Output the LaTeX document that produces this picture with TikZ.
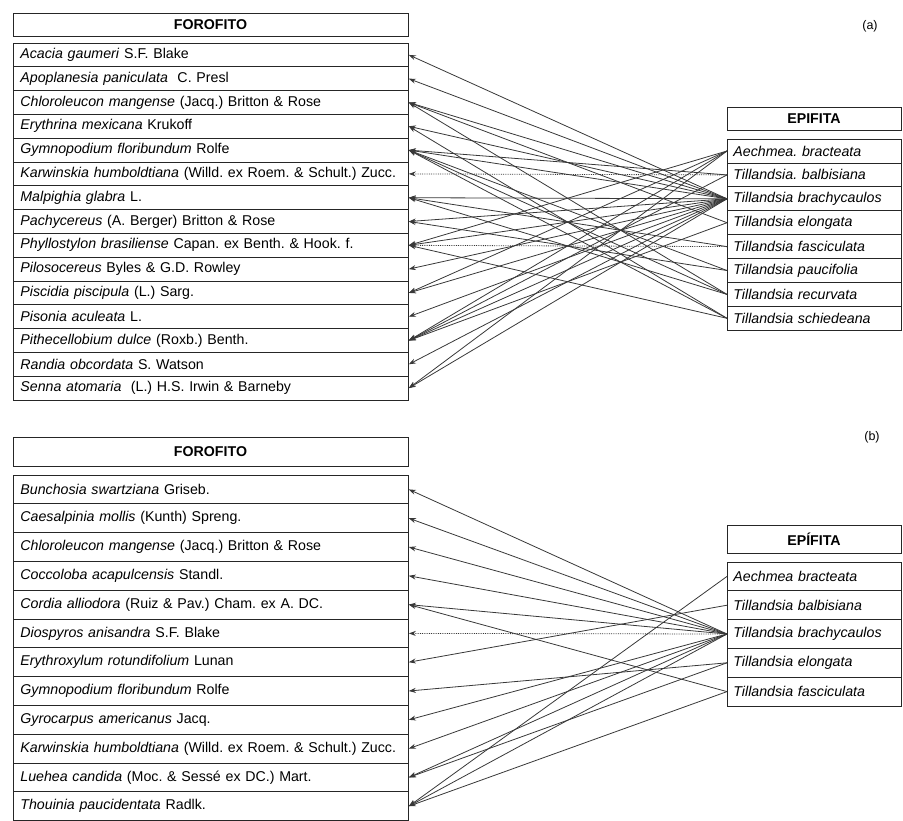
\documentclass[tikz,border=0pt]{standalone}
\usepackage{fontspec}
\setmainfont{Liberation Sans}
\usetikzlibrary{arrows.meta}
\newcommand{\spfont}{\fontsize{14.2}{16}\selectfont}
\frenchspacing

\begin{document}
\begin{tikzpicture}[x=1pt, y=-1pt, line width=0.8pt,
  lrow/.style={draw=black!85, anchor=west, text width=381pt, inner xsep=7pt, inner ysep=0pt, minimum height=#1, align=left, font=\spfont},
  rrow/.style={draw=black!85, anchor=west, text width=162pt, inner xsep=6pt, inner ysep=0pt, minimum height=#1, align=left, font=\spfont\itshape},
  head/.style={draw=black!85, inner sep=0pt, minimum height=#1, font=\spfont\bfseries},
  link/.style={draw=black!78, line width=0.8pt, -{Stealth[length=7pt,width=5pt]}}]
  \useasboundingbox (0,0) rectangle (903,820);

  % (a) forofitos
  \node[head=23pt, minimum width=395pt] (fah) at (210.5,24.5) {FOROFITO};
  \node[lrow=23.8pt] (fa1) at (13,54.9) {\textit{Acacia gaumeri} S.F. Blake};
  \node[lrow=23.8pt] (fa2) at (13,78.7) {\textit{Apoplanesia paniculata}\ \ C. Presl};
  \node[lrow=23.8pt] (fa3) at (13,102.5) {\textit{Chloroleucon mangense} (Jacq.) Britton \& Rose};
  \node[lrow=23.8pt] (fa4) at (13,126.3) {\textit{Erythrina mexicana} Krukoff};
  \node[lrow=23.8pt] (fa5) at (13,150.1) {\textit{Gymnopodium floribundum} Rolfe};
  \node[lrow=23.8pt] (fa6) at (13,173.9) {\textit{Karwinskia humboldtiana} (Willd. ex Roem. \& Schult.) Zucc.};
  \node[lrow=23.8pt] (fa7) at (13,197.7) {\textit{Malpighia glabra} L.};
  \node[lrow=23.8pt] (fa8) at (13,221.5) {\textit{Pachycereus} (A. Berger) Britton \& Rose};
  \node[lrow=23.8pt] (fa9) at (13,245.3) {\textit{Phyllostylon brasiliense} Capan. ex Benth. \& Hook. f.};
  \node[lrow=23.8pt] (fa10) at (13,269.1) {\textit{Pilosocereus} Byles \& G.D. Rowley};
  \node[lrow=23.8pt] (fa11) at (13,292.9) {\textit{Piscidia piscipula} (L.) Sarg.};
  \node[lrow=23.8pt] (fa12) at (13,316.7) {\textit{Pisonia aculeata} L.};
  \node[lrow=23.8pt] (fa13) at (13,340.5) {\textit{Pithecellobium dulce} (Roxb.) Benth.};
  \node[lrow=23.8pt] (fa14) at (13,364.3) {\textit{Randia obcordata} S. Watson};
  \node[lrow=23.8pt] (fa15) at (13,388.1) {\textit{Senna atomaria}\ \ (L.) H.S. Irwin \& Barneby};

  % (a) epifitas
  \node[head=23pt, minimum width=174pt] (eah) at (814,118.5) {EPIFITA};
  \node[rrow=23.9pt] (ea1) at (727,151) {Aechmea. bracteata};
  \node[rrow=23.9pt] (ea2) at (727,174.9) {Tillandsia. balbisiana};
  \node[rrow=23.9pt] (ea3) at (727,198.8) {Tillandsia brachycaulos};
  \node[rrow=23.9pt] (ea4) at (727,222.7) {Tillandsia elongata};
  \node[rrow=23.9pt] (ea5) at (727,246.6) {Tillandsia fasciculata};
  \node[rrow=23.9pt] (ea6) at (727,270.5) {Tillandsia paucifolia};
  \node[rrow=23.9pt] (ea7) at (727,294.4) {Tillandsia recurvata};
  \node[rrow=23.9pt] (ea8) at (727,318.3) {Tillandsia schiedeana};
  \node[font=\fontsize{12.5}{14}\selectfont] (laba) at (870,26) {(a)};

  \draw[link] (ea3.west) -- (fa1.east);
  \draw[link] (ea3.west) -- (fa2.east);
  \draw[link] (ea3.west) -- (fa3.east);
  \draw[link] (ea4.west) -- (fa3.east);
  \draw[link] (ea7.west) -- (fa3.east);
  \draw[link] (ea3.west) -- (fa4.east);
  \draw[link] (ea8.west) -- (fa4.east);
  \draw[link] (ea2.west) -- (fa5.east);
  \draw[link] (ea3.west) -- (fa5.east);
  \draw[link] (ea6.west) -- (fa5.east);
  \draw[link] (ea7.west) -- (fa5.east);
  \draw[link] (ea8.west) -- (fa5.east);
  \draw[link, densely dotted] (ea2.west) -- (fa6.east);
  \draw[link] (ea3.west) -- (fa7.east);
  \draw[link] (ea5.west) -- (fa7.east);
  \draw[link] (ea7.west) -- (fa7.east);
  \draw[link] (ea3.west) -- (fa8.east);
  \draw[link] (ea6.west) -- (fa8.east);
  \draw[link] (ea1.west) -- (fa9.east);
  \draw[link] (ea3.west) -- (fa9.east);
  \draw[link, densely dotted] (ea5.west) -- (fa9.east);
  \draw[link] (ea8.west) -- (fa9.east);
  \draw[link] (ea3.west) -- (fa10.east);
  \draw[link] (ea1.west) -- (fa11.east);
  \draw[link] (ea3.west) -- (fa11.east);
  \draw[link] (ea3.west) -- (fa12.east);
  \draw[link] (ea1.west) -- (fa13.east);
  \draw[link] (ea2.west) -- (fa13.east);
  \draw[link] (ea3.west) -- (fa13.east);
  \draw[link] (ea4.west) -- (fa13.east);
  \draw[link] (ea3.west) -- (fa14.east);
  \draw[link] (ea1.west) -- (fa15.east);
  \draw[link] (ea3.west) -- (fa15.east);

  % (b) forofitos
  \node[head=29pt, minimum width=395pt] (fbh) at (210.5,451.5) {FOROFITO};
  \node[lrow=28.8pt] (fb1) at (13,489.4) {\textit{Bunchosia swartziana} Griseb.};
  \node[lrow=28.8pt] (fb2) at (13,518.2) {\textit{Caesalpinia mollis} (Kunth) Spreng.};
  \node[lrow=28.8pt] (fb3) at (13,547) {\textit{Chloroleucon mangense} (Jacq.) Britton \& Rose};
  \node[lrow=28.8pt] (fb4) at (13,575.8) {\textit{Coccoloba acapulcensis} Standl.};
  \node[lrow=28.8pt] (fb5) at (13,604.6) {\textit{Cordia alliodora} (Ruiz \& Pav.) Cham. ex A. DC.};
  \node[lrow=28.8pt] (fb6) at (13,633.4) {\textit{Diospyros anisandra} S.F. Blake};
  \node[lrow=28.8pt] (fb7) at (13,662.2) {\textit{Erythroxylum rotundifolium} Lunan};
  \node[lrow=28.8pt] (fb8) at (13,691) {\textit{Gymnopodium floribundum} Rolfe};
  \node[lrow=28.8pt] (fb9) at (13,719.8) {\textit{Gyrocarpus americanus} Jacq.};
  \node[lrow=28.8pt] (fb10) at (13,748.6) {\textit{Karwinskia humboldtiana} (Willd. ex Roem. \& Schult.) Zucc.};
  \node[lrow=28.8pt] (fb11) at (13,777.4) {\textit{Luehea candida} (Moc. \& Sessé ex DC.) Mart.};
  \node[lrow=28.8pt] (fb12) at (13,806.2) {\textit{Thouinia paucidentata} Radlk.};

  % (b) epifitas
  \node[head=28pt, minimum width=174pt] (ebh) at (814,539) {EPÍFITA};
  \node[rrow=28.8pt] (eb1) at (727,576.4) {Aechmea bracteata};
  \node[rrow=28.8pt] (eb2) at (727,605.2) {Tillandsia balbisiana};
  \node[rrow=28.8pt] (eb3) at (727,634) {Tillandsia brachycaulos};
  \node[rrow=28.8pt] (eb4) at (727,662.8) {Tillandsia elongata};
  \node[rrow=28.8pt] (eb5) at (727,691.6) {Tillandsia fasciculata};
  \node[font=\fontsize{12.5}{14}\selectfont] (labb) at (872,437) {(b)};

  \draw[link] (eb3.west) -- (fb1.east);
  \draw[link] (eb3.west) -- (fb2.east);
  \draw[link] (eb3.west) -- (fb3.east);
  \draw[link] (eb3.west) -- (fb4.east);
  \draw[link] (eb3.west) -- (fb5.east);
  \draw[link] (eb5.west) -- (fb5.east);
  \draw[link, densely dotted] (eb3.west) -- (fb6.east);
  \draw[link] (eb2.west) -- (fb7.east);
  \draw[link] (eb4.west) -- (fb8.east);
  \draw[link] (eb3.west) -- (fb9.east);
  \draw[link] (eb3.west) -- (fb10.east);
  \draw[link] (eb3.west) -- (fb11.east);
  \draw[link] (eb4.west) -- (fb11.east);
  \draw[link] (eb1.west) -- (fb12.east);
  \draw[link] (eb3.west) -- (fb12.east);
  \draw[link] (eb5.west) -- (fb12.east);
\end{tikzpicture}
\end{document}
